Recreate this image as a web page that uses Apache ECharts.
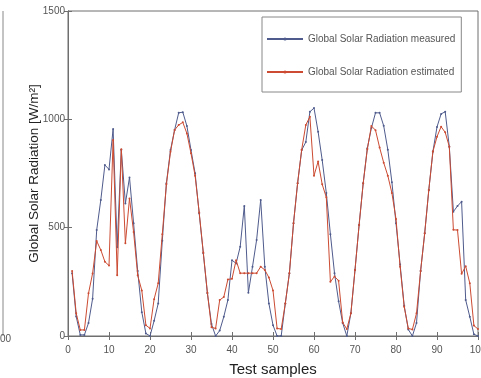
<!DOCTYPE html>
<html><head><meta charset="utf-8">
<script src="https://cdn.jsdelivr.net/npm/echarts@6/dist/echarts.min.js"></script>
<style>html,body{margin:0;padding:0;background:#fff}#c{width:481px;height:378px}</style>
</head><body><div id="c"></div>
<script>
const samples = Array.from({length: 100}, (_, k) => k + 1);
const measured = [290,90,5,5,60,172,489,628,789,769,955,410,860,612,732,520,300,110,12,0,
70,150,440,705,858,951,1030,1033,969,858,751,566,382,197,55,0,25,89,166,350,
335,412,600,200,320,443,628,320,150,50,0,0,150,290,520,705,858,895,1035,1052,
943,812,660,470,290,160,60,0,105,305,512,705,866,960,1030,1030,970,860,710,520,
330,140,30,0,60,300,474,674,851,965,1025,1035,874,574,600,620,166,89,8,0];
const estimated = [300,105,28,28,197,289,438,397,343,325,905,280,862,428,635,480,280,210,50,35,
170,243,470,700,850,951,974,986,935,843,740,570,385,200,40,35,166,180,261,264,
350,290,290,290,290,290,320,305,270,210,35,32,150,290,520,705,860,974,1012,740,
805,700,640,250,275,255,62,32,105,305,512,705,862,969,950,870,800,740,660,540,
320,135,35,30,105,300,474,674,851,920,966,940,874,490,489,287,322,243,48,32];
const xTicks = [0,10,20,30,40,50,60,70,80,90,100];
const yTicks = [0,500,1000,1500];
const seriesNames = ['Global Solar Radiation measured','Global Solar Radiation estimated'];

const chart = echarts.init(document.getElementById('c'), null, {renderer:'canvas'});
const frame = '#6f6f6f';
const tickStyle = {show:true, inside:true, length:4, lineStyle:{color:frame}};
chart.setOption({
  animation:false,
  backgroundColor:'#fff',
  grid:{left:68, top:11, width:410, height:325, show:true, borderColor:frame, borderWidth:1,
        containLabel:false, outerBoundsMode:'none'},
  legend:{
    left:262, top:17, orient:'vertical', itemWidth:36, itemHeight:4, itemGap:23,
    padding:[17,6,15,4], borderColor:'#888', borderWidth:1, backgroundColor:'#fff',
    textStyle:{fontFamily:'Liberation Sans', fontSize:10, color:'#555'},
    data:seriesNames
  },
  xAxis:[{
    type:'value', min:xTicks[0], max:xTicks[xTicks.length-1], interval:10,
    name:'Test samples', nameLocation:'middle', nameGap:26, nameMoveOverlap:false,
    nameTextStyle:{fontFamily:'Liberation Sans', fontSize:15, color:'#222'},
    axisLine:{show:true, lineStyle:{color:frame}}, axisTick:tickStyle,
    axisLabel:{fontFamily:'Liberation Sans', fontSize:10, color:'#555', margin:9},
    splitLine:{show:false}
  },{
    type:'value', position:'top', min:xTicks[0], max:xTicks[xTicks.length-1], interval:10,
    axisLine:{show:true, lineStyle:{color:frame}}, axisTick:tickStyle,
    axisLabel:{show:false}, splitLine:{show:false}
  }],
  yAxis:[{
    type:'value', min:yTicks[0], max:yTicks[yTicks.length-1], interval:500,
    name:'Global Solar Radiation [W/m\u00b2]', nameLocation:'middle', nameGap:27, nameMoveOverlap:false,
    nameTextStyle:{fontFamily:'Liberation Sans', fontSize:13.5, color:'#222'},
    axisLine:{show:true, lineStyle:{color:frame}}, axisTick:tickStyle,
    axisLabel:{fontFamily:'Liberation Sans', fontSize:10, color:'#555', margin:3, formatter:v=>String(v)},
    splitLine:{show:false}
  },{
    type:'value', position:'right', min:yTicks[0], max:yTicks[yTicks.length-1], interval:500,
    axisLine:{show:true, lineStyle:{color:frame}}, axisTick:tickStyle,
    axisLabel:{show:false}, splitLine:{show:false}
  }],
  series:[{
    name:seriesNames[0], type:'line', xAxisIndex:0, yAxisIndex:0,
    data:samples.map((s,i)=>[s, measured[i]]),
    symbol:'circle', symbolSize:2, showSymbol:true,
    lineStyle:{color:'#4f5b8c', width:1}, itemStyle:{color:'#4f5b8c'}, z:2
  },{
    name:seriesNames[1], type:'line', xAxisIndex:0, yAxisIndex:0,
    data:samples.map((s,i)=>[s, estimated[i]]),
    symbol:'circle', symbolSize:2, showSymbol:true,
    lineStyle:{color:'#cc4b32', width:1}, itemStyle:{color:'#cc4b32'}, z:3
  }],
  graphic:[
    {type:'line', shape:{x1:3,y1:11,x2:3,y2:336}, style:{stroke:'#888', lineWidth:1}},
    {type:'text', left:0, top:334, style:{text:'00', font:'10px Liberation Sans', fill:'#555'}}
  ]
});
</script></body></html>
